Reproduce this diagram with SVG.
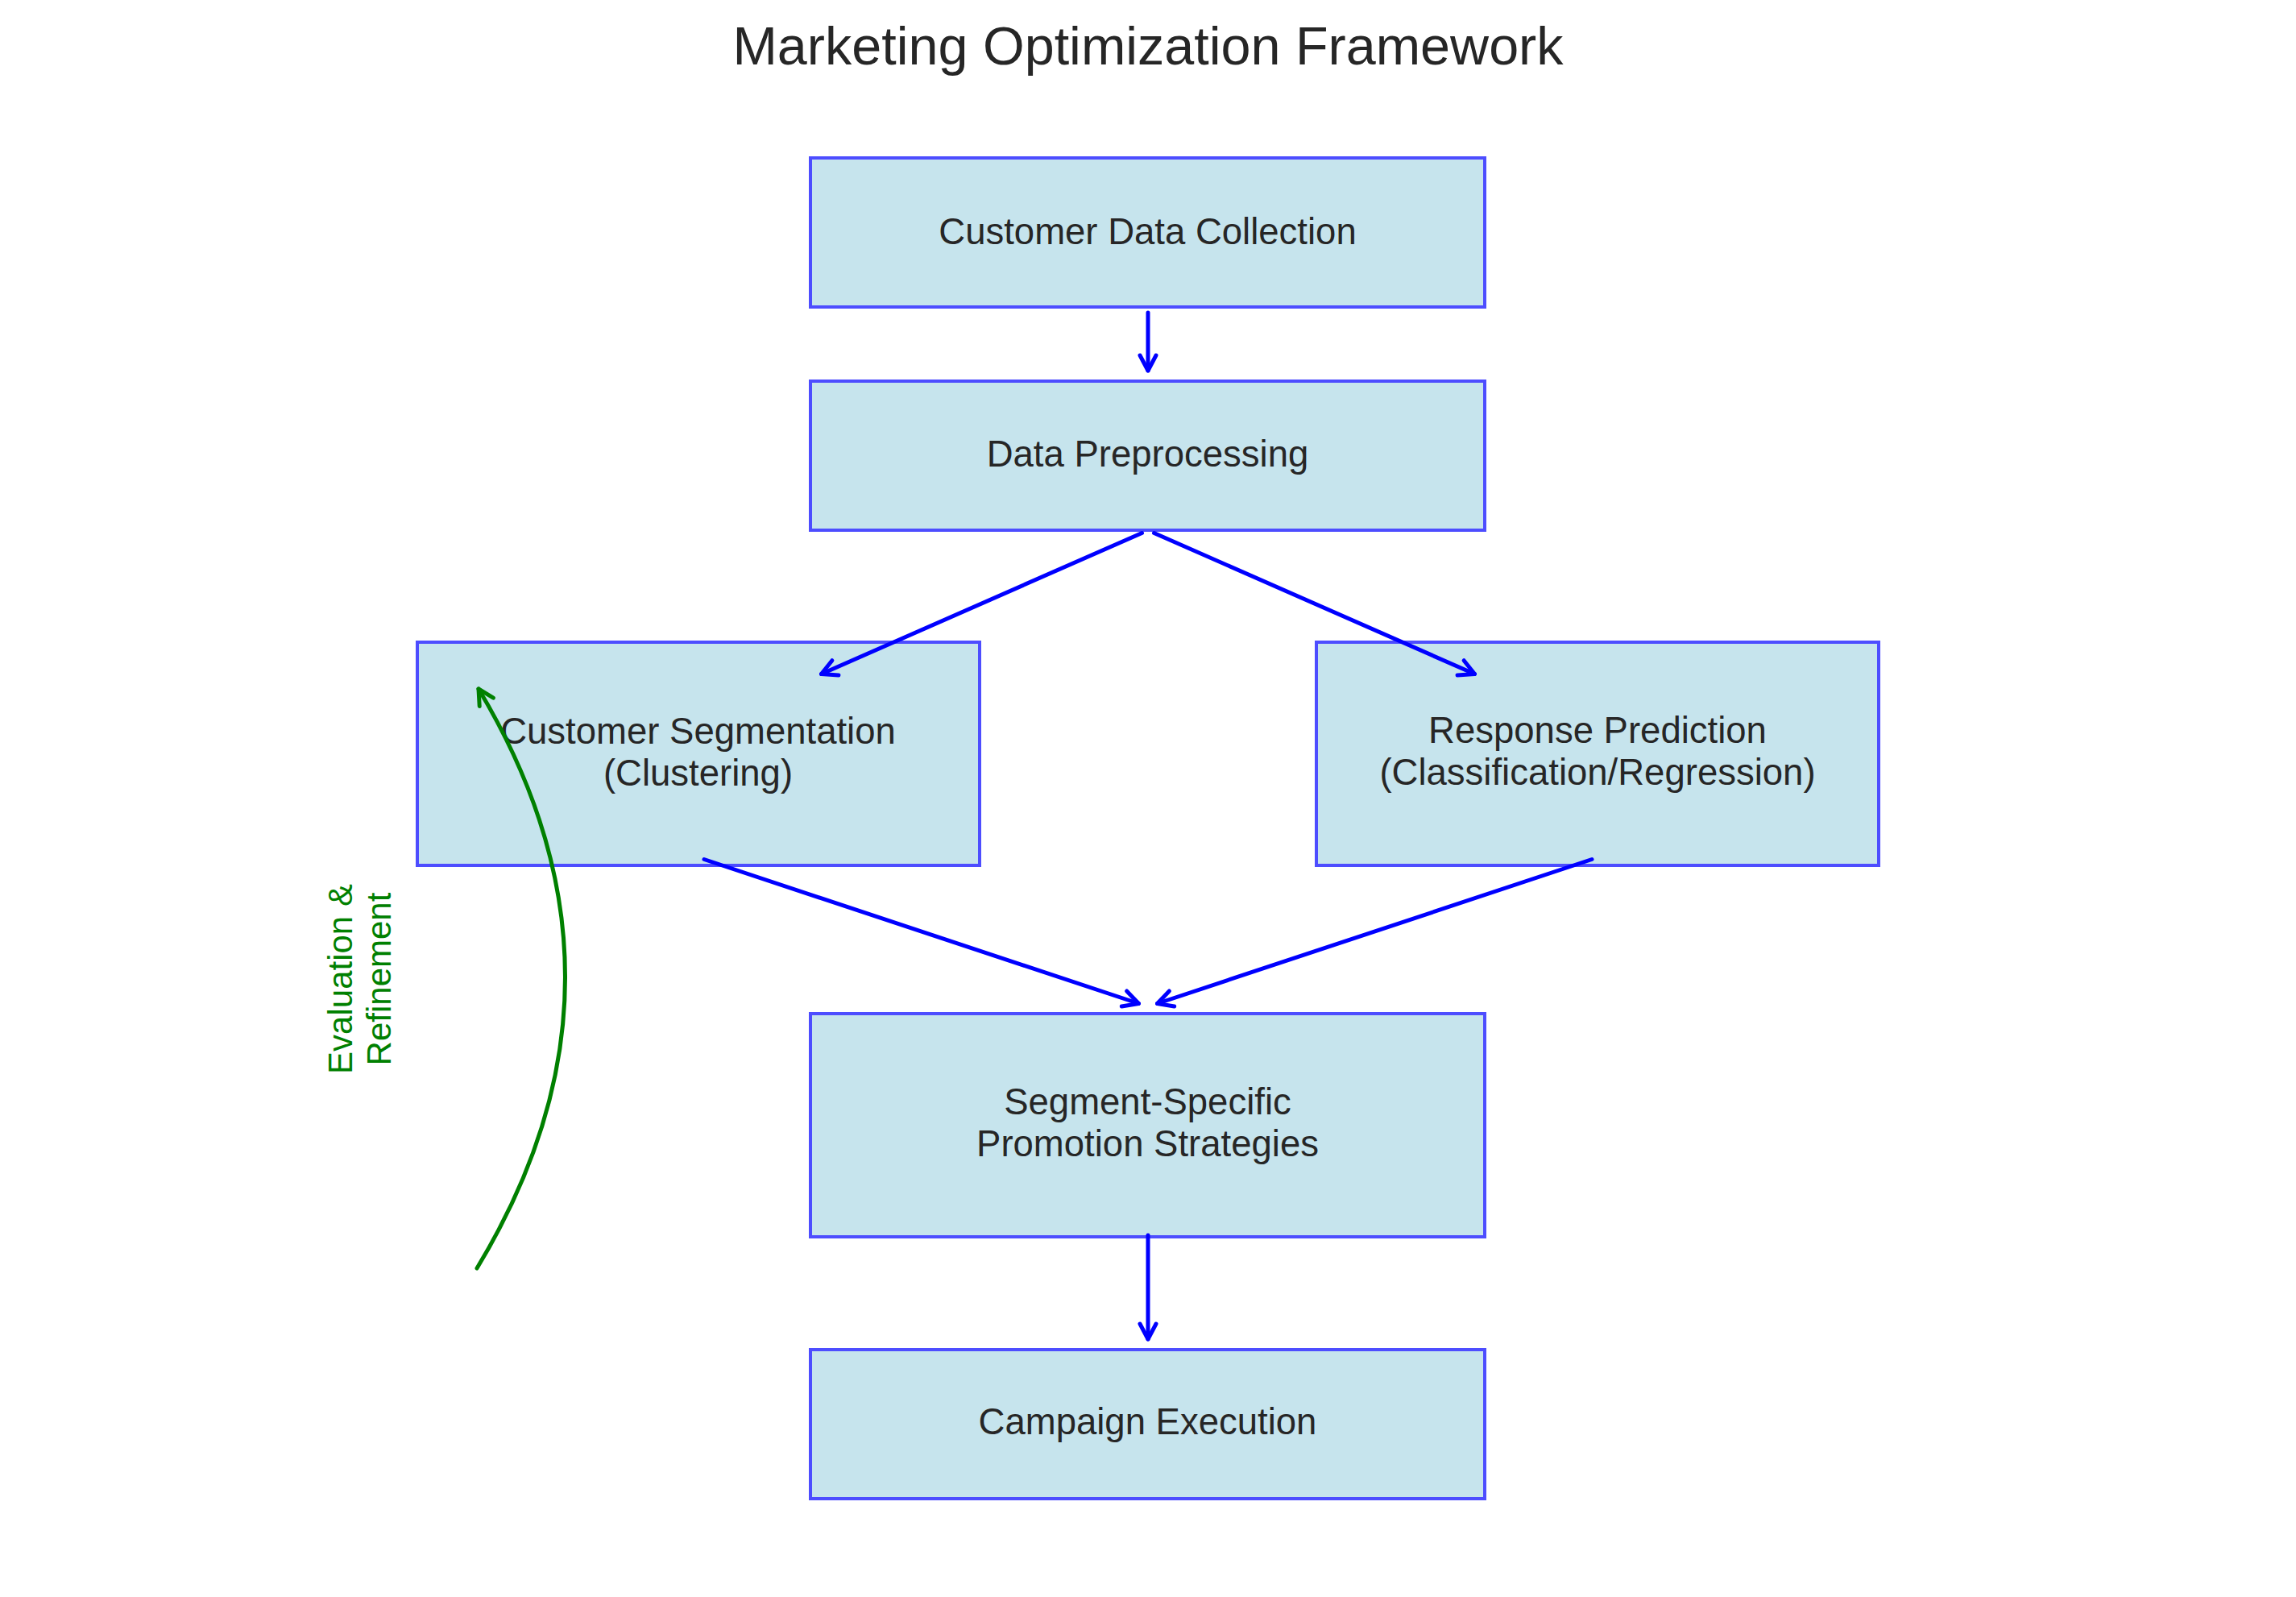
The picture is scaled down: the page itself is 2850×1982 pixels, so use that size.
<svg xmlns="http://www.w3.org/2000/svg" width="2850" height="1982" viewBox="0 0 2850 1982">
  <style>
    .box { fill: #C6E4ED; stroke: #4D4DFF; stroke-width: 4; }
    .lbl { font-family: "Liberation Sans", Arial, Helvetica, sans-serif; font-size: 45.5px; fill: #262626; text-anchor: middle; }
    .title { font-family: "Liberation Sans", Arial, Helvetica, sans-serif; font-size: 66.5px; fill: #262626; text-anchor: middle; }
    .glbl { font-family: "Liberation Sans", Arial, Helvetica, sans-serif; font-size: 42px; fill: #008000; text-anchor: middle; }
    .conn { fill: none; stroke: #0000FF; stroke-width: 5; stroke-linecap: round; stroke-linejoin: round; marker-end: url(#headBlue); }
    .loop { fill: none; stroke: #008000; stroke-width: 5; stroke-linecap: round; stroke-linejoin: round; marker-end: url(#headGreen); }
  </style>
  <defs>
    <marker id="headBlue" markerUnits="userSpaceOnUse" markerWidth="60" markerHeight="60" refX="0" refY="0" orient="auto" viewBox="-30 -30 60 60" overflow="visible">
      <path d="M -19 -10 L 0 0 L -19 10" fill="none" stroke="#0000FF" stroke-width="5" stroke-linecap="round" stroke-linejoin="round"/>
    </marker>
    <marker id="headGreen" markerUnits="userSpaceOnUse" markerWidth="60" markerHeight="60" refX="0" refY="0" orient="auto" viewBox="-30 -30 60 60" overflow="visible">
      <path d="M -19 -10 L 0 0 L -19 10" fill="none" stroke="#008000" stroke-width="5" stroke-linecap="round" stroke-linejoin="round"/>
    </marker>
  </defs>
  <rect x="0" y="0" width="2850" height="1982" fill="#FFFFFF"/>
  <text class="title" x="1425" y="80">Marketing Optimization Framework</text>

  <g id="node-data-collection">
    <rect class="box" x="1006" y="196" width="837" height="185"/>
    <text class="lbl" x="1424.5" y="303">Customer Data Collection</text>
  </g>
  <g id="node-preprocessing">
    <rect class="box" x="1006" y="473" width="837" height="185"/>
    <text class="lbl" x="1424.5" y="579">Data Preprocessing</text>
  </g>
  <g id="node-segmentation">
    <rect class="box" x="518" y="797" width="698" height="277"/>
    <text class="lbl" x="866.5" y="923">Customer Segmentation</text>
    <text class="lbl" x="866.5" y="975">(Clustering)</text>
  </g>
  <g id="node-response">
    <rect class="box" x="1634" y="797" width="698" height="277"/>
    <text class="lbl" x="1983" y="922">Response Prediction</text>
    <text class="lbl" x="1983" y="974">(Classification/Regression)</text>
  </g>
  <g id="node-strategies">
    <rect class="box" x="1006" y="1258" width="837" height="277"/>
    <text class="lbl" x="1424.5" y="1383">Segment-Specific</text>
    <text class="lbl" x="1424.5" y="1435">Promotion Strategies</text>
  </g>
  <g id="node-execution">
    <rect class="box" x="1006" y="1675" width="837" height="185"/>
    <text class="lbl" x="1424.5" y="1780">Campaign Execution</text>
  </g>

  <g id="connectors">
    <path class="conn" d="M 1425 388 L 1425 460"/>
    <path class="conn" d="M 1417.5 661.5 L 1019.5 836.5"/>
    <path class="conn" d="M 1432.5 661.5 L 1830.5 836.5"/>
    <path class="conn" d="M 874 1066.5 L 1413.5 1245.5"/>
    <path class="conn" d="M 1976 1066.5 L 1436.5 1245.5"/>
    <path class="conn" d="M 1425 1533 L 1425 1662"/>
    <path class="loop" d="M 592 1574 Q 810 1214.5 594 855"/>
    <text class="glbl" transform="translate(437,1215) rotate(-90)">Evaluation &amp;</text>
    <text class="glbl" transform="translate(485,1215) rotate(-90)">Refinement</text>
  </g>
</svg>
